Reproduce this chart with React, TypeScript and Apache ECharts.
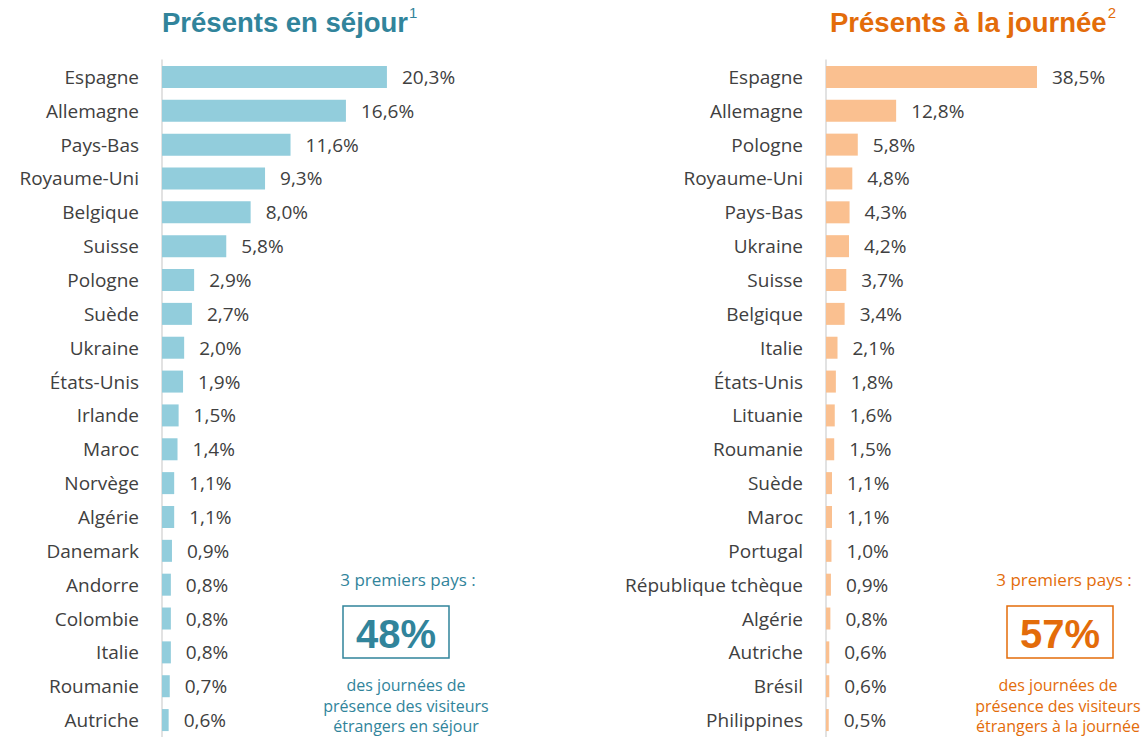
import React, { useEffect, useRef } from "react";
import * as echarts from "echarts";

const leftCategories = ["Espagne", "Allemagne", "Pays-Bas", "Royaume-Uni", "Belgique", "Suisse", "Pologne", "Suède", "Ukraine", "États-Unis", "Irlande", "Maroc", "Norvège", "Algérie", "Danemark", "Andorre", "Colombie", "Italie", "Roumanie", "Autriche"];
const leftValues = [20.3, 16.6, 11.6, 9.3, 8.0, 5.8, 2.9, 2.7, 2.0, 1.9, 1.5, 1.4, 1.1, 1.1, 0.9, 0.8, 0.8, 0.8, 0.7, 0.6];

const rightCategories = ["Espagne", "Allemagne", "Pologne", "Royaume-Uni", "Pays-Bas", "Ukraine", "Suisse", "Belgique", "Italie", "États-Unis", "Lituanie", "Roumanie", "Suède", "Maroc", "Portugal", "République tchèque", "Algérie", "Autriche", "Brésil", "Philippines"];
const rightValues = [38.5, 12.8, 5.8, 4.8, 4.3, 4.2, 3.7, 3.4, 2.1, 1.8, 1.6, 1.5, 1.1, 1.1, 1.0, 0.9, 0.8, 0.6, 0.6, 0.5];

const leftTitle = "Présents en séjour";
const rightTitle = "Présents à la journée";
const leftShare = "48%";
const rightShare = "57%";
const leftCaption = ["des journées de", "présence des visiteurs", "étrangers en séjour"];
const rightCaption = ["des journées de", "présence des visiteurs", "étrangers à la journée"];

const TEAL = "#31849B";
const ORANGE = "#E36C0A";
const TEXT = "#404040";
const FONT = "'Open Sans', Lato, sans-serif";
const ARIAL = "'Liberation Sans', Arial, sans-serif";

const fmt = (v: number) => v.toFixed(1).replace(".", ",") + "%";

export default function App() {
  const ref = useRef<HTMLDivElement>(null);
  useEffect(() => {
    if (!ref.current) return;
    const chart = echarts.init(ref.current, undefined, { renderer: "svg" });

    const yAxisCommon = (cats: string[], gi: number) => ({
      type: "category" as const,
      gridIndex: gi,
      data: cats,
      inverse: true,
      axisLine: { show: true, lineStyle: { color: "#D9D9D9", width: 1.5 } },
      axisTick: { show: false },
      axisLabel: { color: TEXT, fontSize: 19, fontFamily: FONT, margin: 23 },
    });
    const xAxisCommon = (gi: number, max: number) => ({
      type: "value" as const,
      gridIndex: gi,
      min: 0,
      max,
      show: false,
    });
    const seriesCommon = (vals: number[], gi: number, color: string) => ({
      type: "bar" as const,
      xAxisIndex: gi,
      yAxisIndex: gi,
      data: vals,
      barWidth: 22,
      itemStyle: { color },
      label: {
        show: true,
        position: "right" as const,
        distance: 15,
        color: TEXT,
        fontSize: 19,
        fontFamily: FONT,
        formatter: (p: any) => fmt(p.value),
      },
    });

    const title = (x: number, text: string, sup: string, color: string) => ({
      type: "text",
      left: x,
      top: 5,
      style: {
        text: `{a|${text}}{s|${sup}}`,
        rich: {
          a: { fontSize: 27.5, fontWeight: "bold", fontFamily: ARIAL, fill: color, lineHeight: 34 },
          s: { fontSize: 15, fontFamily: ARIAL, fill: color, verticalAlign: "top", lineHeight: 34, padding: [0, 0, 6, 1] },
        },
      },
    });

    const box = (cx: number, share: string, caption: string[], color: string, tx: number, capX: number) => [
      {
        type: "text",
        x: tx,
        y: 579,
        style: { text: "3 premiers pays :", fill: color, fontSize: 17, fontFamily: FONT, align: "center", verticalAlign: "middle" },
      },
      {
        type: "rect",
        shape: { x: cx - 53, y: 606, width: 106, height: 52 },
        style: { fill: "none", stroke: color, lineWidth: 1.5 },
      },
      {
        type: "text",
        x: cx,
        y: 634,
        style: { text: share, fill: color, fontSize: 40, fontWeight: "bold", fontFamily: ARIAL, align: "center", verticalAlign: "middle" },
      },
      ...caption.map((t, i) => ({
        type: "text",
        x: capX,
        y: 685 + i * 20.5,
        style: { text: t, fill: color, fontSize: 16, fontFamily: FONT, align: "center", verticalAlign: "middle" },
      })),
    ];

    chart.setOption({
      animation: false,
      grid: [
        { left: 162, top: 60, width: 277, height: 683 },
        { left: 826, top: 60, width: 274, height: 683 },
      ],
      xAxis: [xAxisCommon(0, 25), xAxisCommon(1, 50)],
      yAxis: [yAxisCommon(leftCategories, 0), yAxisCommon(rightCategories, 1)],
      series: [seriesCommon(leftValues, 0, "#92CDDC"), seriesCommon(rightValues, 1, "#FAC090")],
      graphic: [
        title(162, leftTitle, "1", TEAL),
        title(830, rightTitle, "2", ORANGE),
        ...box(396, leftShare, leftCaption, TEAL, 408, 406),
        ...box(1060, rightShare, rightCaption, ORANGE, 1064, 1058),
      ],
    });
    return () => chart.dispose();
  }, []);
  return <div ref={ref} style={{ position: "absolute", left: 0, top: 0, width: 1148, height: 737 }} />;
}
